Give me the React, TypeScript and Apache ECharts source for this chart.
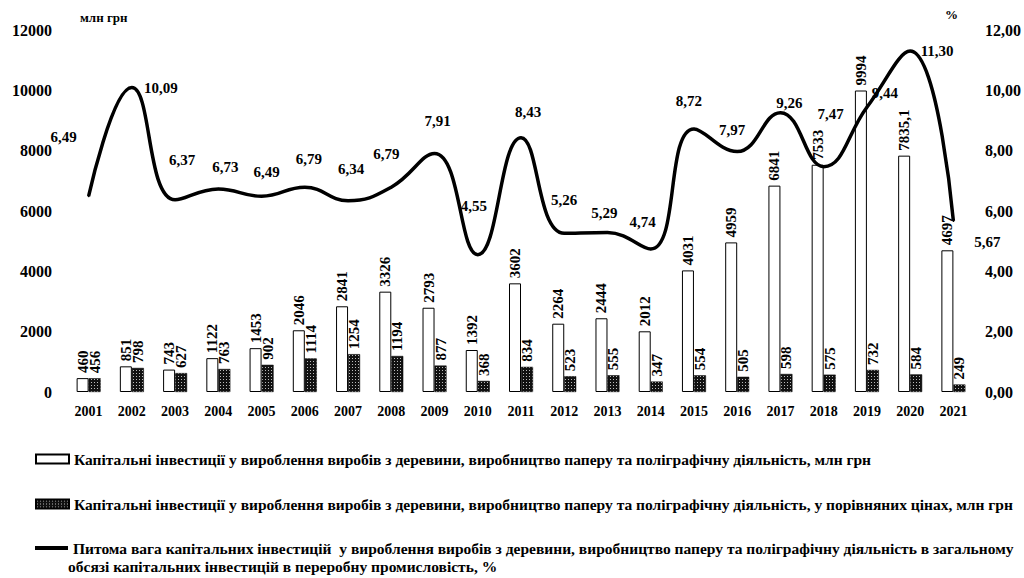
import React, { useEffect, useRef } from "react";
import * as echarts from "echarts";

const years = ["2001","2002","2003","2004","2005","2006","2007","2008","2009","2010","2011","2012","2013","2014","2015","2016","2017","2018","2019","2020","2021"];
const investNominal = [460, 851, 743, 1122, 1453, 2046, 2841, 3326, 2793, 1392, 3602, 2264, 2444, 2012, 4031, 4959, 6841, 7533, 9994, 7835.1, 4697];
const investComparable = [456, 798, 627, 763, 902, 1114, 1254, 1194, 877, 368, 834, 523, 555, 347, 554, 505, 598, 575, 732, 584, 249];
const sharePct = [6.49, 10.09, 6.37, 6.73, 6.49, 6.79, 6.34, 6.79, 7.91, 4.55, 8.43, 5.26, 5.29, 4.74, 8.72, 7.97, 9.26, 7.47, 9.44, 11.3, 5.67];

// label placement offsets (px) for the share line labels, separate from data
const shareLabelOffsets: [number, number][] = [
  [-25, -59], [29, 0], [7, -40], [7, -22], [5, -24], [4, -28], [3, -32], [-5, -33], [3, -32], [-4, -49],
  [7, -26], [0, -33], [-3, -19], [-8, -27], [-5, -28], [-5, -22], [9, -10], [7, -53], [18, -14], [27, 0], [34, 21],
];

const nameNominal = "Капітальні інвестиції у вироблення виробів з деревини, виробництво паперу та поліграфічну діяльність, млн грн";
const nameComparable = "Капітальні інвестиції у вироблення виробів з деревини, виробництво паперу та поліграфічну діяльність, у порівняних цінах, млн грн";
const nameShareLine1 = "Питома вага капітальних інвестицій  у вироблення виробів з деревини, виробництво паперу та поліграфічну діяльність в загальному";
const nameShareLine2 = "обсязі капітальних інвестицій в переробну промисловість, %";

const FONT = "Liberation Serif, serif";

function makePattern(): HTMLCanvasElement {
  const c = document.createElement("canvas");
  c.width = 3;
  c.height = 3;
  const ctx = c.getContext("2d")!;
  ctx.fillStyle = "#111";
  ctx.fillRect(0, 0, 3, 3);
  ctx.fillStyle = "#bbb";
  ctx.fillRect(1, 1, 1, 1);
  return c;
}

const fmt = (v: number) => String(v).replace(".", ",");

export default function App() {
  const ref = useRef<HTMLDivElement>(null);
  useEffect(() => {
    if (!ref.current) return;
    const chart = echarts.init(ref.current, undefined, { renderer: "svg" });
    const pattern = { image: makePattern(), repeat: "repeat" } as any;
    const barLabel = {
      show: true,
      position: "top",
      rotate: 90,
      align: "left",
      verticalAlign: "middle",
      distance: 5,
      color: "#000",
      fontFamily: FONT,
      fontWeight: "bold",
      fontSize: 15,
      formatter: (p: any) => fmt(p.value),
    };
    const legendText = { fontFamily: FONT, fontSize: 15.5, fontWeight: "bold", color: "#000" };
    chart.setOption({
      animation: false,
      backgroundColor: "#fff",
      textStyle: { fontFamily: FONT },
      grid: { left: 67, right: 49, top: 30, bottom: 186, containLabel: false },
      legend: [
        {
          data: [{ name: nameNominal, icon: "rect" }],
          left: 30,
          top: 446,
          itemWidth: 33,
          itemHeight: 9,
          textStyle: legendText,
        },
        {
          data: [{ name: nameComparable, icon: "rect" }],
          left: 30,
          top: 491,
          itemWidth: 33,
          itemHeight: 9,
          textStyle: legendText,
        },
        {
          data: [{ name: nameShareLine1, icon: "rect" }],
          left: 30,
          top: 535,
          itemWidth: 33,
          itemHeight: 4,
          textStyle: legendText,
        },
      ],
      graphic: [
        { type: "text", left: 68, top: 558, style: { text: nameShareLine2, font: `bold 15.5px ${FONT}`, fill: "#000" } },
        { type: "text", left: 80, top: 11, style: { text: "млн грн", font: `bold 13px ${FONT}`, fill: "#000" } },
        { type: "text", left: 945, top: 8, style: { text: "%", font: `bold 13px ${FONT}`, fill: "#000" } },
      ],
      xAxis: {
        type: "category",
        data: years,
        axisLine: { show: false },
        axisTick: { show: false },
        axisLabel: { color: "#000", fontFamily: FONT, fontWeight: "bold", fontSize: 14, margin: 12 },
      },
      yAxis: [
        {
          type: "value",
          min: 0,
          max: 12000,
          interval: 2000,
          splitLine: { show: false },
          axisLine: { show: false },
          axisTick: { show: false },
          axisLabel: {
            color: "#000",
            fontFamily: FONT,
            fontWeight: "bold",
            fontSize: 16,
            margin: 15,
            formatter: (v: number) => String(v),
          },
        },
        {
          type: "value",
          min: 0,
          max: 12,
          interval: 2,
          position: "right",
          splitLine: { show: false },
          axisLine: { show: false },
          axisTick: { show: false },
          axisLabel: {
            color: "#000",
            fontFamily: FONT,
            fontWeight: "bold",
            fontSize: 16,
            margin: 10,
            formatter: (v: number) => v.toFixed(2).replace(".", ","),
          },
        },
      ],
      series: [
        {
          name: nameNominal,
          type: "bar",
          data: investNominal,
          barWidth: 12,
          barGap: "0%",
          itemStyle: { color: "#fff", borderColor: "#000", borderWidth: 1 },
          label: barLabel,
        },
        {
          name: nameComparable,
          type: "bar",
          data: investComparable,
          barWidth: 12,
          barGap: "0%",
          itemStyle: { color: pattern, borderColor: "#000", borderWidth: 0.5 },
          label: barLabel,
        },
        {
          name: nameShareLine1,
          type: "line",
          yAxisIndex: 1,
          smooth: 0.45,
          symbol: "circle",
          symbolSize: 2,
          itemStyle: { color: "#000" },
          lineStyle: { color: "#000", width: 3.5 },
          data: sharePct.map((v, i) => ({
            value: v,
            label: { offset: shareLabelOffsets[i] },
          })),
          label: {
            show: true,
            position: "inside",
            color: "#000",
            fontFamily: FONT,
            fontWeight: "bold",
            fontSize: 15,
            formatter: (p: any) => p.value.toFixed(2).replace(".", ","),
          },
          z: 5,
        },
      ],
    });
    return () => chart.dispose();
  }, []);
  return <div ref={ref} style={{ width: 1024, height: 578, position: "absolute", left: 0, top: 0 }} />;
}
